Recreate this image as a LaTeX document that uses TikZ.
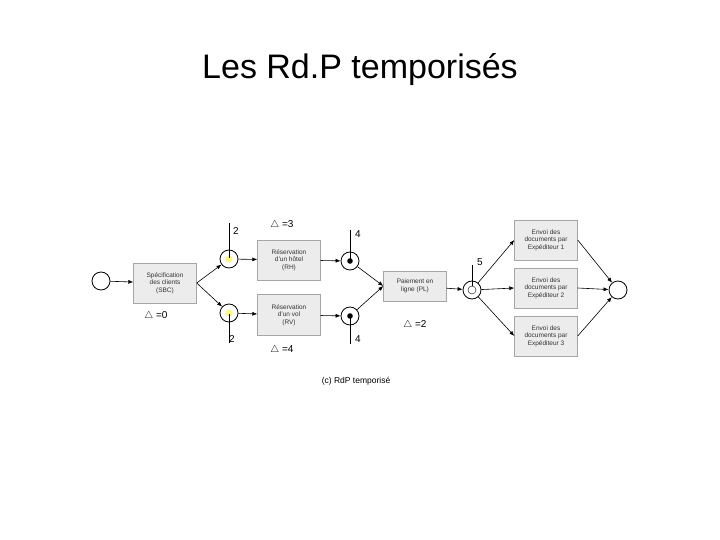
\documentclass[tikz,border=0pt]{standalone}
\usepackage{fontspec}
\setmainfont{Liberation Sans}
\usetikzlibrary{arrows.meta}
\begin{document}
\begin{tikzpicture}[x=1pt,y=-1pt,
  pl/.style={circle,draw,thick,minimum size=18pt,inner sep=0pt},
  tr/.style={draw=gray!70,fill=gray!15,minimum width=63pt,inner sep=1pt,align=center,font=\fontsize{6.5}{7.5}\selectfont,text=black!80},
  arr/.style={-{Latex[length=5pt,width=4pt]},semithick},
  lab/.style={font=\fontsize{10}{11}\selectfont},
  tick/.style={thin}]
\useasboundingbox (0,0) rectangle (720,540);
\node[font=\fontsize{34}{38}\selectfont] (title) at (360,70) {Les Rd.P temporisés};
\node[pl] (p0) at (101,281) {};
\node[tr,minimum height=40pt] (sbc) at (165,283) {Spécification\\des clients\\(SBC)};
\node[lab] (d0) at (156,316) {$\triangle$ =0};
\node[pl] (p1) at (229,259) {};
\node[pl] (p2) at (229,313) {};
\fill[yellow!50] (p1) circle (3.5pt);
\fill[yellow!50] (p2) circle (3.5pt);
\draw[tick] (229,223) -- (229,258);
\draw[tick] (229,314) -- (229,343);
\node[lab] (n1) at (236,231) {2};
\node[lab] (n2) at (232,339) {2};
\node[tr,minimum height=40pt] (rh) at (289,260) {Réservation\\d'un hôtel\\(RH)};
\node[tr,minimum height=41pt] (rv) at (289,315) {Réservation\\d'un vol\\(RV)};
\node[lab] (d3) at (282,225) {$\triangle$ =3};
\node[lab] (d4) at (282,350) {$\triangle$ =4};
\node[pl] (p3) at (350,261) {};
\node[pl] (p4) at (350,316) {};
\fill (p3) circle (2.8pt);
\fill (p4) circle (2.8pt);
\draw[tick] (350,230) -- (350,260);
\draw[tick] (350,317) -- (350,344);
\node[lab] (n3) at (358,234) {4};
\node[lab] (n4) at (358,339) {4};
\node[tr,minimum height=30pt] (pl) at (415,286) {Paiement en\\ligne (PL)};
\node[lab] (d2) at (415,325) {$\triangle$ =2};
\node[pl] (p5) at (472,290) {};
\draw[thin] (p5) circle (4pt);
\draw[tick] (472,265) -- (472,286);
\node[lab] (n5) at (480,262) {5};
\node[tr,minimum height=40pt] (e1) at (546,240) {Envoi des\\documents par\\Expéditeur 1};
\node[tr,minimum height=40pt] (e2) at (546,288) {Envoi des\\documents par\\Expéditeur 2};
\node[tr,minimum height=40pt] (e3) at (546,336) {Envoi des\\documents par\\Expéditeur 3};
\node[pl] (pe) at (618,290) {};
\node[font=\fontsize{8.5}{10}\selectfont] (cap) at (356,381) {(c) RdP temporisé};
\draw[arr] (p0) -- (sbc);
\draw[arr] (sbc.east) -- (p1);
\draw[arr] (sbc.east) -- (p2);
\draw[arr] (p1) -- (rh);
\draw[arr] (p2) -- (rv);
\draw[arr] (rh) -- (p3);
\draw[arr] (rv) -- (p4);
\draw[arr] (p3) -- (pl.west);
\draw[arr] (p4) -- (pl.west);
\draw[arr] (pl) -- (p5);
\draw[arr] (p5) -- (e1.west);
\draw[arr] (p5) -- (e2.west);
\draw[arr] (p5) -- (e3.west);
\draw[arr] (e1.east) -- (pe);
\draw[arr] (e2.east) -- (pe);
\draw[arr] (e3.east) -- (pe);
\end{tikzpicture}
\end{document}
